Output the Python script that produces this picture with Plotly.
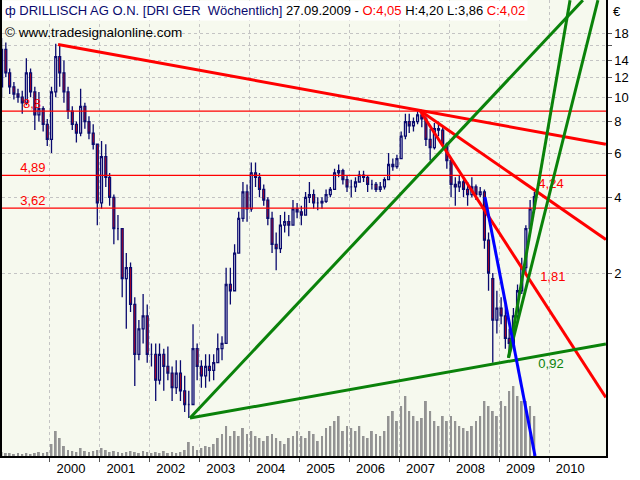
import plotly.graph_objects as go
import pandas as pd

# ---------------- data (monthly) ----------------
months = pd.date_range("1999-01-01", "2009-09-01", freq="MS") + pd.Timedelta(days=14)

open_ = [
    11.0, 15.5, 12.5, 11.0, 10.3, 10.0, 9.5, 12.5, 10.5, 8.5, 9.0, 7.8,
    6.8, 10.5, 14.5, 12.5, 10.5, 8.8, 7.8, 7.2, 9.2, 8.0, 7.2, 6.5,
    3.8, 5.8, 4.8, 4.0, 3.0, 3.0, 1.9, 2.1, 1.5, 0.95, 1.2, 1.35,
    0.95, 0.95, 0.75, 0.95, 0.85, 0.8, 0.7, 0.8, 0.68, 0.6, 0.6, 1.0,
    0.85, 0.78, 0.85, 0.82, 0.88, 1.0, 1.05, 1.8, 1.7, 2.4, 3.3, 4.2,
    3.6, 5.0, 4.8, 4.3, 3.9, 3.3, 2.6, 2.5, 3.1, 3.2, 3.1, 3.6,
    3.5, 3.4, 4.0, 4.1, 3.8, 3.8, 3.85, 4.1, 4.3, 5.0, 5.1, 4.7,
    4.4, 4.4, 4.6, 4.9, 4.8, 4.5, 4.5, 4.3, 4.4, 4.7, 5.4, 5.3,
    5.7, 7.0, 8.0, 7.7, 8.0, 8.5, 8.2, 6.8, 6.3, 7.5, 7.4, 6.5,
    5.6, 4.5, 4.4, 4.6, 4.3, 4.1, 4.4, 4.1, 4.2, 2.7, 1.9, 1.3,
    1.45, 1.35, 1.1, 1.05, 1.35, 1.7, 2.1, 3.0, 3.6,
]
high = [
    17.2, 16.5, 13.0, 11.5, 10.8, 10.6, 14.3, 13.0, 11.0, 10.5, 9.2, 8.2,
    11.0, 16.3, 16.2, 14.0, 11.0, 9.2, 8.0, 10.8, 9.5, 8.4, 7.8, 6.5,
    6.7, 6.5, 5.0, 4.1, 3.4, 3.0, 2.4, 2.2, 1.6, 1.3, 1.65, 1.5,
    1.05, 1.05, 1.05, 1.0, 1.02, 0.85, 0.9, 0.9, 0.78, 0.68, 1.25, 1.05,
    0.9, 0.95, 0.95, 0.95, 1.15, 1.12, 2.1, 2.1, 2.6, 3.5, 4.6, 4.5,
    5.5, 5.5, 5.0, 4.5, 4.0, 3.5, 2.9, 3.4, 3.5, 3.4, 3.9, 3.8,
    3.7, 4.2, 4.6, 4.3, 4.0, 4.0, 4.3, 4.4, 5.2, 5.4, 5.2, 4.9,
    4.7, 4.8, 5.1, 5.1, 4.9, 4.7, 4.6, 4.6, 4.8, 6.0, 5.7, 5.9,
    7.3, 8.6, 8.6, 8.3, 8.8, 8.8, 8.4, 7.5, 7.9, 8.0, 7.7, 6.6,
    5.7, 4.8, 4.9, 4.7, 4.6, 4.8, 4.5, 4.4, 4.3, 2.9, 2.0, 1.7,
    1.6, 1.5, 1.2, 1.45, 1.8, 2.3, 3.1, 3.9, 4.2,
]
low = [
    10.0, 12.0, 10.3, 9.8, 9.5, 8.6, 9.3, 10.0, 7.4, 8.0, 7.3, 6.4,
    6.0, 10.0, 11.0, 9.5, 8.2, 7.4, 6.6, 7.0, 7.5, 6.8, 6.2, 3.1,
    3.6, 4.4, 3.7, 2.6, 2.7, 1.6, 1.2, 1.4, 0.71, 0.9, 1.05, 0.88,
    0.85, 0.62, 0.72, 0.68, 0.75, 0.62, 0.66, 0.62, 0.56, 0.53, 0.6, 0.75,
    0.7, 0.7, 0.74, 0.75, 0.88, 0.9, 1.05, 1.5, 1.7, 2.4, 3.2, 3.2,
    3.5, 4.4, 4.0, 3.7, 3.1, 2.4, 2.05, 2.4, 2.9, 2.8, 3.1, 3.3,
    3.1, 3.4, 3.8, 3.6, 3.55, 3.6, 3.8, 4.0, 4.3, 4.8, 4.5, 4.2,
    4.0, 4.2, 4.6, 4.6, 4.2, 4.3, 4.2, 4.2, 4.3, 4.7, 5.1, 5.2,
    5.7, 6.8, 7.2, 7.3, 7.8, 7.6, 6.4, 5.6, 6.2, 7.0, 6.2, 5.2,
    4.0, 3.7, 4.2, 4.0, 3.7, 4.0, 3.9, 4.0, 2.5, 1.7, 0.88, 1.15,
    1.25, 1.0, 0.92, 1.05, 1.3, 1.65, 2.0, 2.9, 3.6,
]
close = [
    15.5, 12.5, 11.0, 10.3, 10.0, 9.5, 12.5, 10.5, 8.5, 9.0, 7.8, 6.8,
    10.5, 14.5, 12.5, 10.5, 8.8, 7.8, 7.2, 9.2, 8.0, 7.2, 6.5, 3.8,
    5.8, 4.8, 4.0, 3.0, 3.0, 1.9, 2.1, 1.5, 0.95, 1.2, 1.35, 0.95,
    0.95, 0.75, 0.95, 0.85, 0.8, 0.7, 0.8, 0.68, 0.6, 0.6, 1.0, 0.85,
    0.78, 0.85, 0.82, 0.88, 1.0, 1.05, 1.8, 1.7, 2.4, 3.3, 4.2, 3.6,
    5.0, 4.8, 4.3, 3.9, 3.3, 2.6, 2.5, 3.1, 3.2, 3.1, 3.6, 3.5,
    3.4, 4.0, 4.1, 3.8, 3.8, 3.85, 4.1, 4.3, 5.0, 5.1, 4.7, 4.4,
    4.4, 4.6, 4.9, 4.8, 4.5, 4.5, 4.3, 4.4, 4.7, 5.4, 5.3, 5.7,
    7.0, 8.0, 7.7, 8.0, 8.5, 8.2, 6.8, 6.3, 7.5, 7.4, 6.5, 5.6,
    4.5, 4.4, 4.6, 4.3, 4.1, 4.4, 4.1, 4.2, 2.7, 2.0, 1.3, 1.45,
    1.35, 1.1, 1.05, 1.35, 1.7, 2.1, 3.0, 3.6, 4.02,
]
volume = [
    4, 3, 3, 2, 3, 2, 3, 2, 3, 4, 3, 4,
    12, 25, 18, 10, 6, 5, 4, 8, 5, 4, 5, 6,
    8, 6, 4, 5, 4, 3, 4, 5, 4, 3, 5, 4,
    3, 4, 3, 5, 3, 4, 3, 4, 6, 14, 10, 6,
    8, 10, 9, 12, 18, 22, 30, 20, 25, 20, 28, 22,
    25, 20, 18, 15, 20, 22, 18, 15, 12, 18, 20, 25,
    20, 18, 25, 22, 15, 20, 28, 30, 35, 40, 25, 30,
    28, 25, 30, 20, 18, 25, 22, 20, 25, 40, 45, 35,
    50, 60, 45, 40, 35, 38, 55, 45, 35, 30, 40, 35,
    40, 35, 30, 28, 25, 30, 35, 40, 55, 50, 45, 40,
    55, 50, 65, 70, 60, 55, 55, 50, 40,
]

# horizontal support / resistance levels
level_values = [8.8, 4.89, 3.62]
level_labels = ["8,8", "4,89", "3,62"]

# trend lines: (date, price) end points
red_lines = [
    (["2000-03-03", "2011-02-20"], [16.2, 6.5]),
    (["2007-06-01", "2011-02-20"], [8.85, 2.72]),
    (["2007-06-01", "2011-02-20"], [8.85, 0.64]),
]
green_lines = [
    (["2002-10-24", "2010-09-05"], [0.53, 24.3]),
    (["2002-10-24", "2011-02-20"], [0.53, 1.044]),
    (["2009-03-10", "2010-06-03"], [0.92, 24.3]),
    (["2009-03-10", "2010-12-24"], [0.92, 24.3]),
]
blue_lines = [
    (["2008-09-19", "2009-09-20"], [4.01, 0.3745]),
]

# value labels at right
right_label_dates = ["2010-01-15", "2010-01-28", "2010-01-15"]
right_label_values = [4.24, 1.81, 0.92]
right_label_texts = ["4,24", "1,81", "0,92"]

year_labels = [str(y) for y in range(2000, 2011)]
price_ticks = [2, 4, 6, 8, 10, 12, 14, 16, 18]
price_tick_text = ["2", "4", "6", "8", "10", "12", "14", "", "18"]

# ---------------- figure ----------------
FONT = "Liberation Sans"
RED = "#FF0000"
GREEN = "#0A820A"
BLUE = "#0000FF"
NAVY = "#0A0A6E"

fig = go.Figure()

# volume (base axis)
fig.add_trace(go.Bar(
    x=months, y=volume, marker=dict(color="#939393", line=dict(width=0)),
    width=14 * 24 * 3600 * 1000, xaxis="x", yaxis="y", hoverinfo="skip",
))

# level labels (behind candles)
fig.add_trace(go.Scatter(
    x=["1999-08-25", "1999-09-01", "1999-09-01"], y=level_values,
    text=level_labels, mode="text", textposition="top center",
    textfont=dict(family=FONT, size=13, color=RED), yaxis="y2", hoverinfo="skip",
))
fig.add_trace(go.Scatter(
    x=right_label_dates[:2], y=right_label_values[:2], text=right_label_texts[:2],
    mode="text", textposition="top center",
    textfont=dict(family=FONT, size=13, color=RED), yaxis="y2", hoverinfo="skip",
))
fig.add_trace(go.Scatter(
    x=right_label_dates[2:], y=right_label_values[2:], text=right_label_texts[2:],
    mode="text", textposition="bottom center",
    textfont=dict(family=FONT, size=13, color=GREEN), yaxis="y2", hoverinfo="skip",
))

# horizontal level lines
for v in level_values:
    fig.add_trace(go.Scatter(
        x=["1998-12-01", "2011-06-01"], y=[v, v], mode="lines",
        line=dict(color=RED, width=1.2), yaxis="y2", hoverinfo="skip",
    ))

# candles
fig.add_trace(go.Candlestick(
    x=months, open=open_, high=high, low=low, close=close,
    increasing=dict(line=dict(color=NAVY, width=1.3), fillcolor="#FFFFFF"),
    decreasing=dict(line=dict(color=NAVY, width=1.3), fillcolor=RED),
    whiskerwidth=0, yaxis="y2", hoverinfo="skip",
))

for xs, ys in red_lines:
    fig.add_trace(go.Scatter(x=xs, y=ys, mode="lines", line=dict(color=RED, width=3),
                             yaxis="y2", hoverinfo="skip"))
for xs, ys in green_lines:
    fig.add_trace(go.Scatter(x=xs, y=ys, mode="lines", line=dict(color=GREEN, width=3),
                             yaxis="y2", hoverinfo="skip"))
for xs, ys in blue_lines:
    fig.add_trace(go.Scatter(x=xs, y=ys, mode="lines", line=dict(color=BLUE, width=3),
                             yaxis="y2", hoverinfo="skip"))

title_html = (
    f'<span style="color:{NAVY}">ф DRILLISCH AG O.N. [DRI GER \u00a0Wöchentlich]</span>'
    ' 27.09.2009 - '
    f'<span style="color:{RED}">O:4,05</span>'
    ' H:4,20 L:3,86 '
    f'<span style="color:{RED}">C:4,02</span>'
)

fig.update_layout(
    width=640, height=480,
    margin=dict(l=2, r=34, t=0, b=24),
    paper_bgcolor="white", plot_bgcolor="#F6F9EE",
    showlegend=False,
    font=dict(family=FONT, size=13, color="black"),
    xaxis=dict(
        type="date", range=["1999-01-18", "2011-02-21"],
        tickvals=[f"{y}-06-05" for y in year_labels], ticktext=year_labels,
        ticks="", showgrid=False,
        minor=dict(tickvals=[f"{y}-01-01" for y in year_labels], ticks="outside",
                   ticklen=4, tickcolor="#555555", showgrid=True,
                   gridcolor="#C4C4C4", griddash="dot", gridwidth=1),
        showline=True, linecolor="black", linewidth=1.5,
        tickfont=dict(family=FONT, size=13, color="black"),
        rangeslider=dict(visible=False), zeroline=False, fixedrange=True,
    ),
    yaxis=dict(range=[0, 456], visible=False, fixedrange=True),
    yaxis2=dict(
        type="log", overlaying="y", side="right",
        range=[-0.4266, 1.3865],
        tickvals=price_ticks, ticktext=price_tick_text,
        ticks="outside", ticklen=4, tickcolor="#555555",
        showgrid=True, gridcolor="#C4C4C4", griddash="dot", gridwidth=1,
        showline=True, mirror=True, linecolor="black", linewidth=1.5,
        tickfont=dict(family=FONT, size=13, color="black"),
        zeroline=False, fixedrange=True,
    ),
    annotations=[
        dict(text=title_html, xref="paper", yref="paper", x=0, y=1,
             xanchor="left", yanchor="top", showarrow=False, bgcolor="white",
             borderpad=2, font=dict(family=FONT, size=13, color="black")),
        dict(text="© www.tradesignalonline.com", xref="paper", yref="paper",
             x=0.002, y=1 - 32 / 456, xanchor="left", yanchor="middle",
             showarrow=False, font=dict(family=FONT, size=13.5, color="black")),
        dict(text="€", xref="paper", yref="paper", x=1.008, y=1 - 11 / 456,
             xanchor="left", yanchor="middle", showarrow=False,
             font=dict(family=FONT, size=13, color="black")),
    ],
)

fig.write_html("out.html", config={"displayModeBar": False},
               post_script="document.body.style.margin='0px';")
